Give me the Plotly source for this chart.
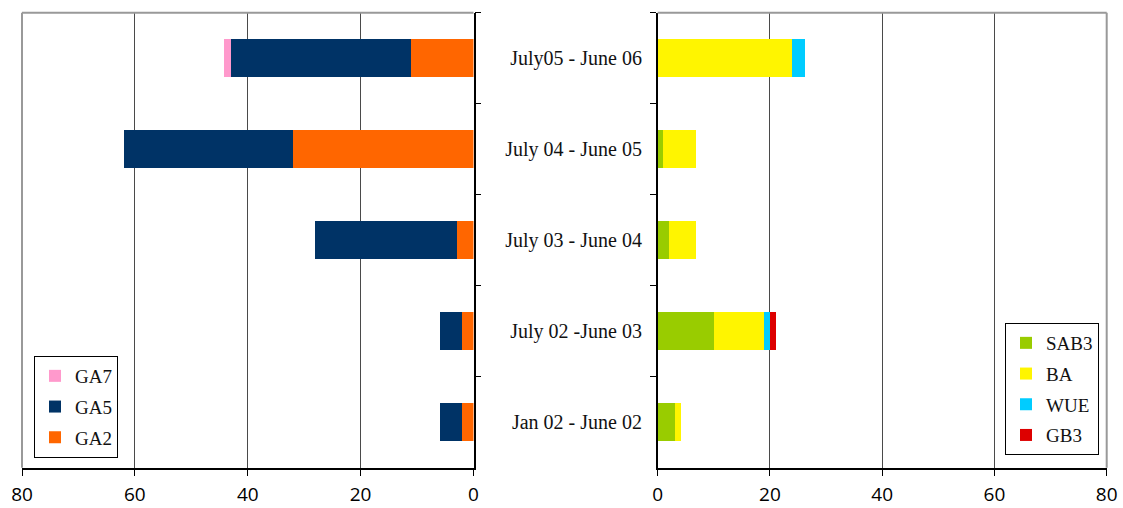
import plotly.graph_objects as go

# Periods, listed bottom-to-top as they appear on the category axis
periods = ["Jan 02 - June 02", "July 02 -June 03", "July 03 - June 04",
           "July 04 - June 05", "July05 - June 06"]

# Left panel series (stacked outward from 0)
ga2 = [2, 2, 3, 32, 11]
ga5 = [4, 4, 25, 30, 32]
ga7 = [0, 0, 0, 0, 1.2]

# Right panel series
sab3 = [3, 10, 2, 1, 0]
ba = [1.2, 9, 4.8, 5.8, 24]
wue = [0, 1, 0, 0, 2.3]
gb3 = [0, 1, 0, 0, 0]

x_ticks = [0, 20, 40, 60, 80]

serif = "Liberation Serif, Times New Roman, serif"
sans = "Open Sans, DejaVu Sans, sans-serif"

fig = go.Figure()

left_series = [("GA2", ga2, "#FF6600", 3), ("GA5", ga5, "#003366", 2), ("GA7", ga7, "#FF99CC", 1)]
for name, vals, col, rank in left_series:
    fig.add_trace(go.Bar(
        y=periods, x=vals, name=name, orientation="h",
        marker=dict(color=col, line=dict(width=0)),
        xaxis="x", yaxis="y", legend="legend", legendgroup=name, legendrank=rank,
    ))

right_series = [("SAB3", sab3, "#99CC00"), ("BA", ba, "#FFF500"),
                ("WUE", wue, "#00CCFF"), ("GB3", gb3, "#DD0000")]
for name, vals, col in right_series:
    fig.add_trace(go.Bar(
        y=periods, x=vals, name=name, orientation="h",
        marker=dict(color=col, line=dict(width=0)),
        xaxis="x2", yaxis="y2", legend="legend2", legendgroup=name,
    ))

y_dom = [0.079, 0.975]
x_common = dict(
    tickvals=x_ticks, ticks="outside", ticklen=6, tickcolor="black",
    showline=True, linecolor="black", linewidth=1.5,
    showgrid=True, gridcolor="#4a4a4a", gridwidth=1, zeroline=False,
    tickfont=dict(family=sans, size=19, color="black"),
    ticklabelstandoff=3, fixedrange=True, automargin=False,
)
y_common = dict(
    type="category", categoryorder="array", categoryarray=periods,
    ticks="outside", ticklen=6, tickcolor="black", tickson="boundaries",
    showline=True, linecolor="black", linewidth=1.5, showgrid=False,
    domain=y_dom, fixedrange=True, automargin=False,
)

legend_font = dict(family=serif, size=19, color="#111111")

fig.update_layout(
    width=1123, height=508,
    margin=dict(l=0, r=0, t=0, b=0, autoexpand=False),
    paper_bgcolor="white", plot_bgcolor="white",
    barmode="stack", bargap=0.58,
    xaxis=dict(domain=[22 / 1123, 473.5 / 1123], range=[80, 0], anchor="y", **x_common),
    yaxis=dict(anchor="x", side="right", showticklabels=False, **y_common),
    xaxis2=dict(domain=[657.7 / 1123, 1106.7 / 1123], range=[0, 80], anchor="y2", **x_common),
    yaxis2=dict(anchor="x2", side="left", showticklabels=True,
                tickfont=dict(family=serif, size=20, color="#111111"),
                ticklabelstandoff=10, **y_common),
    legend=dict(
        x=34 / 1123, y=(508 - 356) / 508, xanchor="left", yanchor="top",
        traceorder="grouped", tracegroupgap=3, itemwidth=30,
        bgcolor="white", bordercolor="black", borderwidth=1,
        font=legend_font,
    ),
    legend2=dict(
        x=1005 / 1123, y=(508 - 323) / 508, xanchor="left", yanchor="top",
        traceorder="grouped", tracegroupgap=3, itemwidth=30,
        bgcolor="white", bordercolor="black", borderwidth=1,
        font=legend_font,
    ),
    showlegend=True,
)

# Gray frame on the open sides of each plot area
gray = "#999999"
fig.add_shape(type="line", xref="x domain", yref="y domain", x0=0, x1=1, y0=1, y1=1,
              line=dict(color=gray, width=2), layer="above")
fig.add_shape(type="line", xref="x domain", yref="y domain", x0=0, x1=0, y0=0, y1=1,
              line=dict(color=gray, width=2), layer="above")
fig.add_shape(type="line", xref="x2 domain", yref="y2 domain", x0=0, x1=1, y0=1, y1=1,
              line=dict(color=gray, width=2), layer="above")
fig.add_shape(type="line", xref="x2 domain", yref="y2 domain", x0=1, x1=1, y0=0, y1=1,
              line=dict(color=gray, width=2), layer="above")

fig.write_html("out.html")
